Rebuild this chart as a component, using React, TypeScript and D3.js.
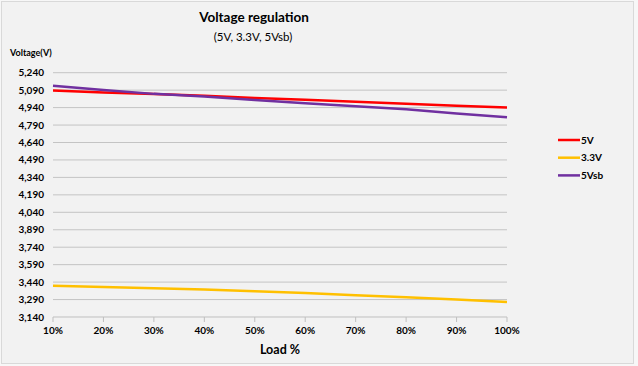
import React from 'react'
import * as d3 from 'd3'

const loads = ['10%', '20%', '30%', '40%', '50%', '60%', '70%', '80%', '90%', '100%']
const v5 = [5086, 5070, 5056, 5041, 5023, 5007, 4991, 4974, 4956, 4940]
const v33 = [3409, 3397, 3388, 3376, 3361, 3346, 3326, 3310, 3290, 3270]
const v5sb = [5127, 5092, 5058, 5035, 5006, 4977, 4951, 4925, 4890, 4857]
const yTicks = d3.range(3140, 5241, 150)

const seriesNames = ['5V', '3.3V', '5Vsb']
const seriesColors = ['#ff0000', '#ffc000', '#7030a0']

const font = 'Lato, "Open Sans", sans-serif'

export default function App() {
    const width = 638
    const height = 366
    const x = d3.scalePoint<string>().domain(loads).range([53, 507])
    const y = d3.scaleLinear().domain([3140, 5240]).range([317, 72.7])
    const line = d3.line<number>().x((d, i) => x(loads[i]) as number).y(d => y(d))
    const allSeries = [v5, v33, v5sb]

    return (
        <svg width={width} height={height} style={{ position: 'absolute', left: 0, top: 0 }}>
            <rect x={0} y={0} width={width} height={height} fill='#f7f7f7' />
            <rect x={1.5} y={1.5} width={632} height={362} fill='#f2f2f2' stroke='#d9d9d9' />
            <text x={254} y={22} textAnchor='middle' fontFamily={font} fontWeight='bold' fontSize={13.5} fill='#000'>Voltage regulation</text>
            <text x={253} y={41} textAnchor='middle' fontFamily={font} fontSize={11.5} fill='#000'>(5V, 3.3V, 5Vsb)</text>
            <text x={10} y={56} fontFamily={font} fontWeight='bold' fontSize={9} fill='#000'>Voltage(V)</text>

            {yTicks.slice(1).map(t => (
                <line key={t} x1={53} x2={507} y1={y(t)} y2={y(t)} stroke='#c4c4c4' strokeWidth={1} />
            ))}
            {yTicks.map(t => (
                <text key={'l' + t} x={44} y={y(t) + 3.5} textAnchor='end' fontFamily={font} fontWeight='bold' fontSize={10} fill='#000'>{d3.format(',')(t)}</text>
            ))}

            <line x1={53} x2={507} y1={y(3140)} y2={y(3140)} stroke='#bfbfbf' />
            {loads.map(l => (
                <g key={l}>
                    <line x1={x(l)} x2={x(l)} y1={y(3140)} y2={y(3140) + 5} stroke='#bfbfbf' />
                    <text x={x(l)} y={334} textAnchor='middle' fontFamily={font} fontWeight='bold' fontSize={10} fill='#000'>{l}</text>
                </g>
            ))}
            <text x={280} y={354} textAnchor='middle' fontFamily={font} fontWeight='bold' fontSize={12.5} fill='#000'>Load %</text>

            {allSeries.map((s, i) => (
                <path key={i} d={line(s) as string} fill='none' stroke={seriesColors[i]} strokeWidth={2.5} />
            ))}

            {seriesNames.map((n, i) => (
                <g key={n} transform={`translate(558, ${140 + i * 17.7})`}>
                    <line x1={0} x2={22} y1={0} y2={0} stroke={seriesColors[i]} strokeWidth={2.5} />
                    <text x={23} y={3.5} fontFamily={font} fontWeight='bold' fontSize={10} fill='#000'>{n}</text>
                </g>
            ))}
        </svg>
    )
}
